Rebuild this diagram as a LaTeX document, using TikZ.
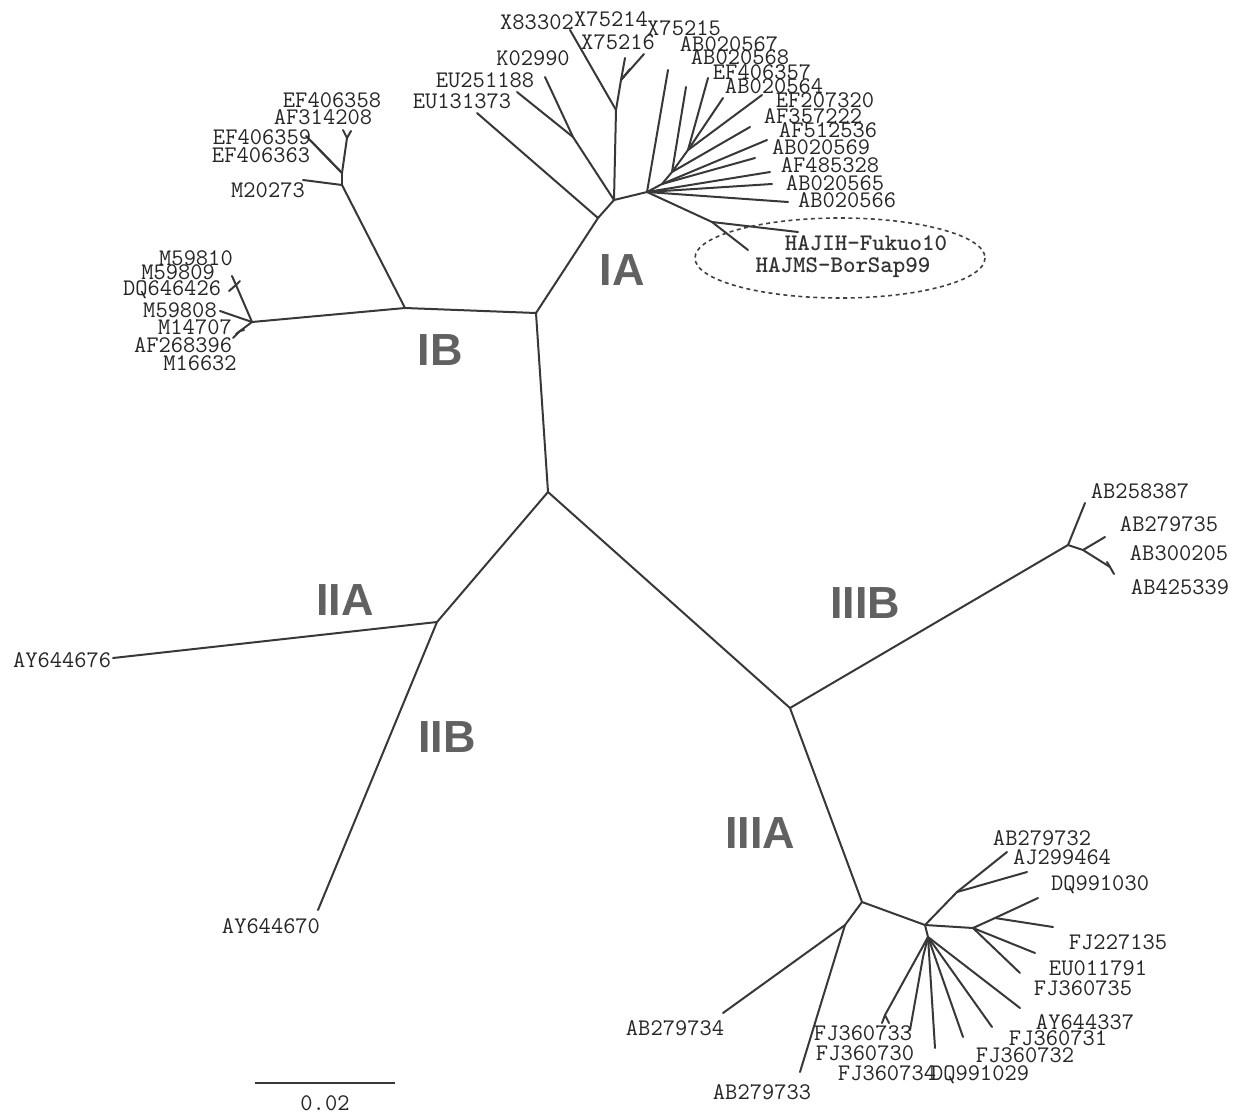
\documentclass[tikz,border=0pt]{standalone}
\usepackage{fontspec}
\newfontfamily\cladefont{Liberation Sans}
\usepackage{tikz}

\tikzset{
  branch/.style={draw=black!78, line width=2pt, line cap=round},
  leaf/.style={font=\ttfamily\fontsize{23.8}{24}\selectfont, inner sep=0pt, text=black!85},
  strain/.style={font=\ttfamily\bfseries\fontsize{23.8}{24}\selectfont, inner sep=0pt, text=black!80},
  clade/.style={font=\cladefont\bfseries\fontsize{45}{45}\selectfont, inner sep=0pt, text=black!62},
}

\begin{document}
\begin{tikzpicture}[x=1pt,y=-1pt]
    \useasboundingbox (0,0) rectangle (1234,1114);

    % 内部节点
    \foreach \n/\x/\y in {root/548/492, nI/536/313, nIB/405/308, nIBa/342/185, nIBb/342/173,
        nIBc/347/138, nIBd/252/322, nIBe/236/285, nIBf/240/331,
        nIA1/598/218, nIA2/614/200, nK/573/137, nX/616/110, nX2/621/80,
        nIA3/647/192, nS3/662/184, nS1/672/172, nS2/688/150, nH/712/222,
        nII/437/622, nIII/790/708, nIIIB/1068/545, nIIIB2/1083/550, nIIIB3/1110/567,
        nIIIA/862/902, nA1/845/925, nA2/925/925, nA3/957/892, nA4/973/928,
        nA5/995/918, nA6/928/937, nA7/923/957, nA8/885/1015} {
        \coordinate (\n) at (\x,\y);
    }

    % 末端
    \foreach \n/\x/\y in {X83302/570/30, X75214/630/69, X75215/644/54, X75216/625/58,
        K02990/545/77, EU251188/517/92, EU131373/477/113,
        AB020567/668/70, AB020568/686/87, EF406357/708/78, AB020564/723/98,
        EF207320/762/95, AF357222/750/127, AF512536/767/140, AB020569/755/158,
        AF485328/770/172, AB020565/772/184, AB020566/788/202,
        HAJIH-Fukuo10/798/232, HAJMS-BorSap99/748/250,
        EF406358/343/130, AF314208/351/131, EF406359/306/136, EF406363/311/141,
        M20273/303/180, M59810/232/276, M59809/240/281, DQ646426/229/291,
        M59808/220/311, M14707/236/334, AF268396/244/330, M16632/233/338,
        AY644676/113/658, AY644670/318/910,
        AB258387/1085/503, AB279735/1105/537, AB300205/1107/562, AB425339/1114/574,
        AB279734/723/1013, AB279733/800/1072, AB279732/1007/852, AJ299464/1027/872,
        DQ991030/1038/898, FJ227135/1053/927, EU011791/1035/953, FJ360735/1020/973,
        AY644337/1020/1008, FJ360731/992/1027, FJ360732/963/1037, DQ991029/935/1048,
        FJ360730/910/1030, FJ360733/882/1023, FJ360734/889/1023} {
        \coordinate (\n) at (\x,\y);
    }

    % 枝
    \foreach \a/\b in {root/nI, nI/nIB, nIB/nIBa, nIBa/M20273, nIBa/nIBb, nIBb/EF406359,
        nIBb/EF406363, nIBb/nIBc, nIBc/EF406358, nIBc/AF314208,
        nIB/nIBd, nIBd/nIBe, nIBe/M59810, nIBe/M59809, nIBe/DQ646426, nIBd/M59808,
        nIBd/nIBf, nIBf/M14707, nIBf/AF268396, nIBf/M16632,
        nI/nIA1, nIA1/EU131373, nIA1/nIA2, nIA2/nK, nK/K02990, nK/EU251188,
        nIA2/nX, nX/X83302, nX/nX2, nX2/X75216, nX2/X75215, nX2/X75214,
        nIA2/nIA3, nIA3/AB020567, nIA3/nS3, nS3/AF512536, nS3/AB020569, nS3/nS1,
        nS1/AF357222, nS1/AB020568, nS1/nS2, nS2/EF406357, nS2/AB020564, nS2/EF207320,
        nIA3/AF485328, nIA3/AB020565, nIA3/AB020566, nIA3/nH,
        nH/HAJIH-Fukuo10, nH/HAJMS-BorSap99,
        root/nII, nII/AY644676, nII/AY644670,
        root/nIII, nIII/nIIIB, nIIIB/AB258387, nIIIB/nIIIB2, nIIIB2/AB279735,
        nIIIB2/nIIIB3, nIIIB3/AB300205, nIIIB3/AB425339,
        nIII/nIIIA, nIIIA/nA1, nA1/AB279734, nA1/AB279733, nIIIA/nA2,
        nA2/nA3, nA3/AB279732, nA3/AJ299464, nA2/nA4, nA4/nA5, nA5/DQ991030,
        nA5/FJ227135, nA4/EU011791, nA4/FJ360735, nA2/nA6, nA6/AY644337,
        nA6/FJ360731, nA6/FJ360732, nA6/DQ991029, nA6/nA7, nA7/FJ360730,
        nA6/nA8, nA8/FJ360733, nA8/FJ360734} {
        \draw[branch] (\a) -- (\b);
    }

    % 标签
    \foreach \n/\x/\y in {X83302/537/22, X75214/611/19, X75215/684/28, X75216/618/42,
        AB020567/729/44, AB020568/740/57, EF406357/762/72, AB020564/774/86,
        EF207320/825/100, AF357222/813/116, AF512536/828/130, AB020569/821/147,
        AF485328/830/165, AB020565/835/183, AB020566/847/200,
        K02990/533/58, EU251188/485/80, EU131373/462/101,
        EF406358/332/100, AF314208/323/117, EF406359/262/137, EF406363/261/155,
        M20273/268/190, M59810/196/258, M59809/178/272, DQ646426/172/290,
        M59808/180/310, M14707/195/327, AF268396/183/345, M16632/200/363,
        AY644676/62/660, AY644670/271/926,
        AB258387/1140/491, AB279735/1169/524, AB300205/1179/553, AB425339/1180/587,
        AB279732/1042/838, AJ299464/1062/857, DQ991030/1100/885, FJ227135/1118/942,
        EU011791/1098/968, FJ360735/1083/988, AY644337/1085/1022, FJ360731/1058/1038,
        FJ360732/1025/1055, DQ991029/980/1075, FJ360733/863/1033, FJ360730/865/1053,
        FJ360734/887/1073, AB279734/675/1028, AB279733/762/1092} {
        \node[leaf] (l\n) at (\x,\y) {\n};
    }
    \node[strain] (lHAJIH) at (866,243) {HAJIH-Fukuo10};
    \node[strain] (lHAJMS) at (843,268) {HAJMS-BorSap99};

    % 虚线圈
    \draw[black!75, line width=1.6pt, dash pattern=on 4pt off 3.5pt] (840,258) ellipse [x radius=145, y radius=40];

    % 分支名
    \node[clade] (cIA) at (622,270) {IA};
    \node[clade] (cIB) at (440,350) {IB};
    \node[clade] (cIIA) at (345,600) {IIA};
    \node[clade] (cIIB) at (447,737) {IIB};
    \node[clade] (cIIIB) at (865,603) {IIIB};
    \node[clade] (cIIIA) at (760,833) {IIIA};

    % 比例尺
    \coordinate (sb1) at (255,1083);
    \coordinate (sb2) at (395,1083);
    \draw[black!78, line width=1.8pt] (sb1) -- (sb2);
    \node[leaf] (sbl) at (325,1103) {0.02};
\end{tikzpicture}
\end{document}
